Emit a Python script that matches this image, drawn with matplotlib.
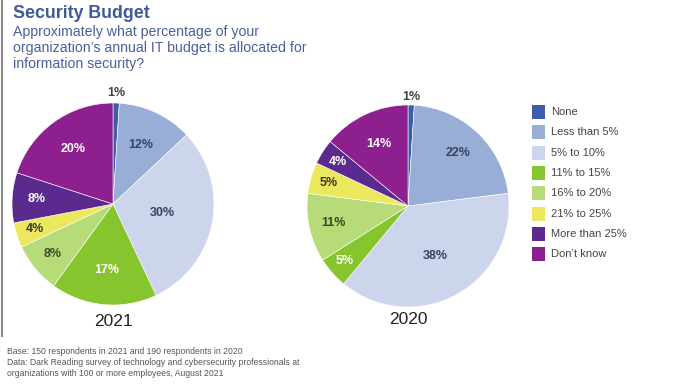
import matplotlib.pyplot as plt
import numpy as np
from matplotlib.patches import Rectangle
from matplotlib.lines import Line2D

plt.rcParams['font.family'] = ['Liberation Sans', 'DejaVu Sans']

# Data
categories = ['None', 'Less than 5%', '5% to 10%', '11% to 15%', '16% to 20%',
              '21% to 25%', 'More than 25%', "Don\u2019t know"]
values_2021 = [1, 12, 30, 17, 8, 4, 8, 20]
values_2020 = [1, 22, 38, 5, 11, 5, 4, 14]
years = ['2021', '2020']

colors = ['#3f5ba9', '#99aed6', '#ccd5eb', '#87c52e', '#b8db7a',
          '#ece85e', '#5a2a8e', '#8e1f8e']
label_colors = ['#444444', '#3a4262', '#3a4262', 'white', '#3a4a2a',
                '#3a3a2a', 'white', 'white']

# radial position of each percentage label (fraction of radius)
dist_2021 = [1.1, 0.65, 0.5, 0.66, 0.77, 0.81, 0.76, 0.67]
dist_2020 = [1.08, 0.72, 0.56, 0.83, 0.76, 0.82, 0.82, 0.68]

W, H = 690, 389
fig = plt.figure(figsize=(W / 100, H / 100), dpi=100)


def add_pie(cx, cy, r, vals, dists, year, year_y):
    ax = fig.add_axes([(cx - r) / W, 1 - (cy + r) / H, 2 * r / W, 2 * r / H])
    wedges, _ = ax.pie(vals, colors=colors, startangle=90, counterclock=False,
                       wedgeprops=dict(edgecolor='white', linewidth=0.4))
    for w, v, d, lc in zip(wedges, vals, dists, label_colors):
        ang = np.deg2rad((w.theta1 + w.theta2) / 2)
        col = '#444444' if d > 1 else lc
        ax.text(d * np.cos(ang), d * np.sin(ang), f'{v}%', ha='center',
                va='center', fontsize=9, fontweight='bold', color=col)
    ax.set_xlim(-1, 1)
    ax.set_ylim(-1, 1)
    ax.set_aspect('equal')
    ax.axis('off')
    fig.text(cx / W, 1 - year_y / H, year, ha='center', va='center',
             fontsize=12.5, color='#222222')


add_pie(113, 204, 101, values_2021, dist_2021, years[0], 322)
add_pie(408, 206, 101, values_2020, dist_2020, years[1], 320)

# Legend
for i, (c, lab) in enumerate(zip(colors, categories)):
    y = 112 + i * 20.3
    fig.patches.append(Rectangle((532 / W, 1 - (y + 7) / H), 13 / W, 14 / H,
                                 transform=fig.transFigure, facecolor=c,
                                 edgecolor='none'))
    fig.text(551 / W, 1 - y / H, lab, ha='left', va='center', fontsize=8,
             color='#444444')

# Titles
fig.text(13 / W, 1 - 13 / H, 'Security Budget', ha='left', va='center',
         fontsize=12.8, fontweight='bold', color='#3d5a99')
fig.text(13 / W, 1 - 25 / H,
         'Approximately what percentage of your\n'
         "organization\u2019s annual IT budget is allocated for\n"
         'information security?',
         ha='left', va='top', fontsize=10.2, color='#4a5f9e', linespacing=1.2)

# Footnotes
fig.text(7 / W, 1 - 347 / H,
         'Base: 150 respondents in 2021 and 190 respondents in 2020\n'
         'Data: Dark Reading survey of technology and cybersecurity professionals at\n'
         'organizations with 100 or more employees, August 2021',
         ha='left', va='top', fontsize=6.2, color='#555555', linespacing=1.3)

# left border
fig.lines.append(Line2D([1.5 / W, 1.5 / W], [1, 1 - 336 / H],
                        transform=fig.transFigure, color='#888888', lw=1.5))

fig.savefig('out.png', dpi=100)
